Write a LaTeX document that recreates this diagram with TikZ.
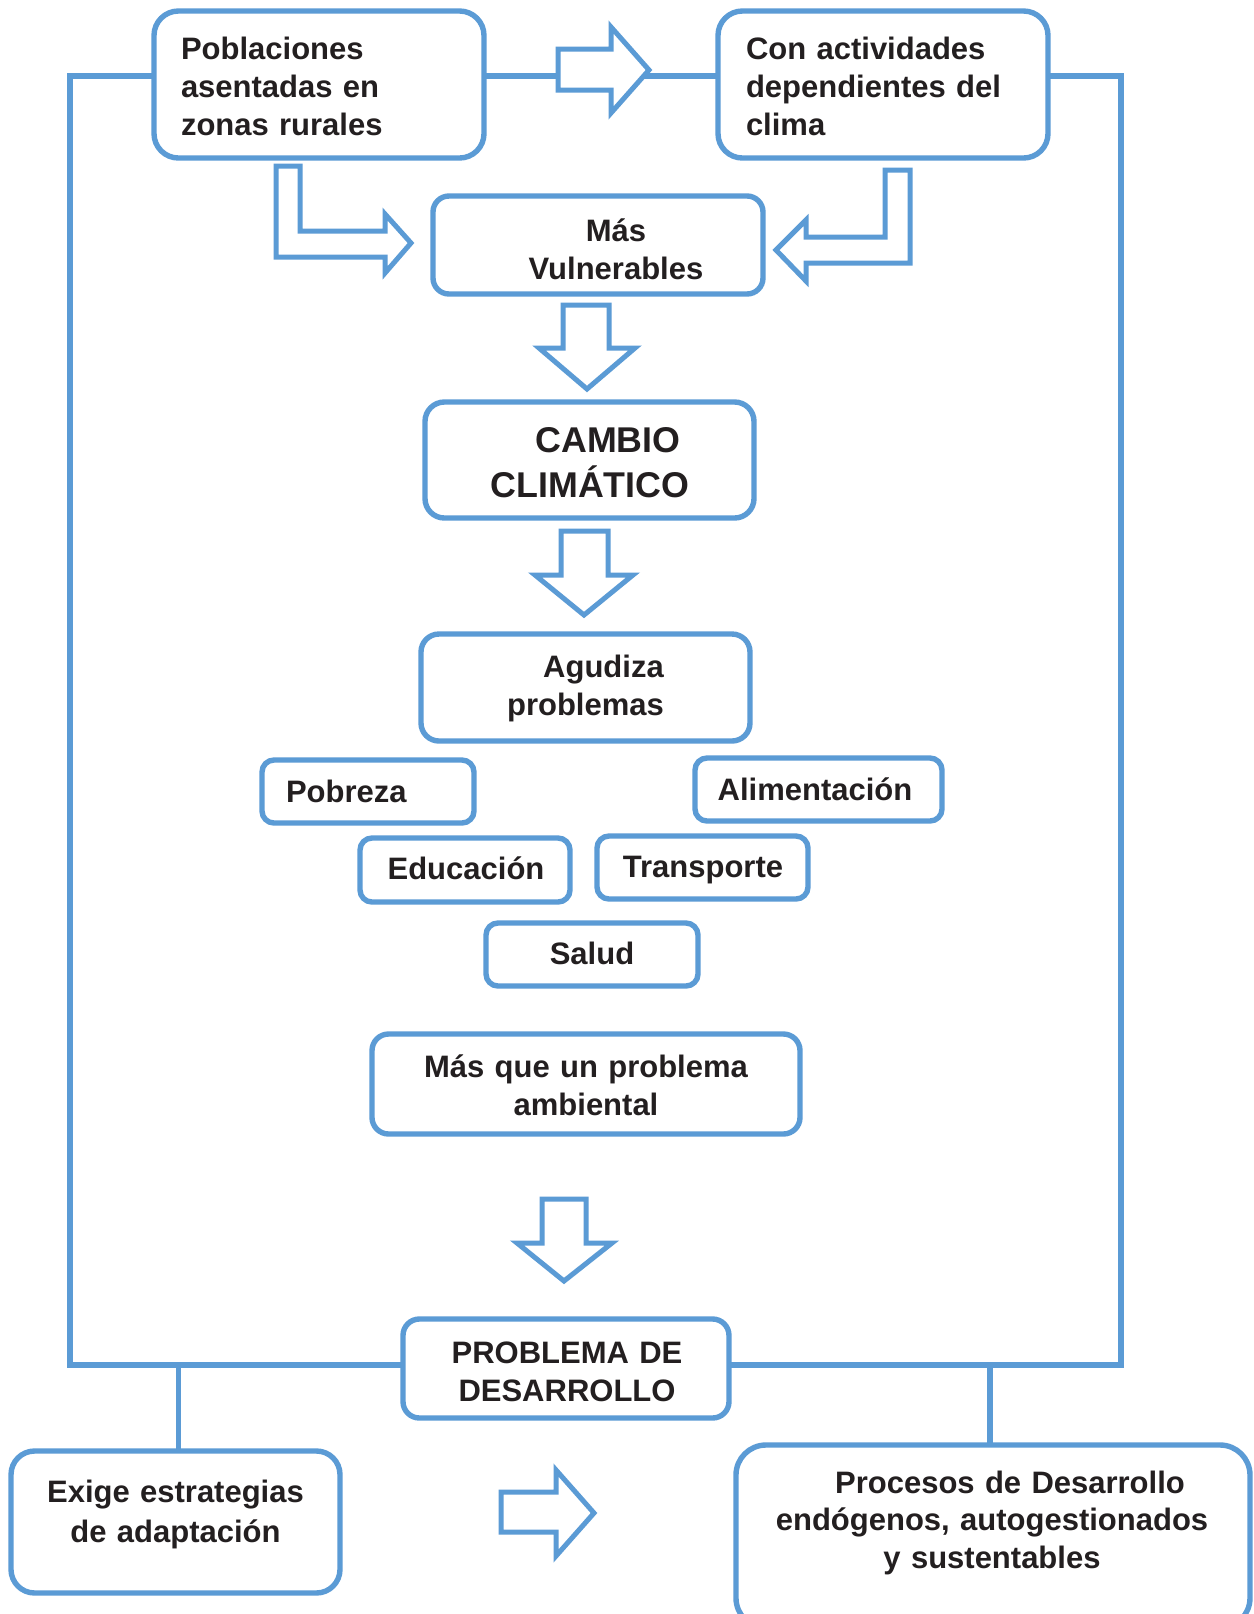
\documentclass[tikz,border=0pt]{standalone}
\usepackage{fontspec}
\setmainfont{Liberation Sans}
\definecolor{myblue}{RGB}{91,155,213}
\definecolor{mytext}{RGB}{35,31,32}
\tikzset{
  box/.style={draw=myblue, line width=2.7pt, fill=white, inner sep=0pt, outer sep=0pt, rectangle},
  txt/.style={inner sep=0pt, outer sep=0pt, text=mytext, font=\bfseries\fontsize{15.5}{19.2}\selectfont},
  ctxt/.style={txt, anchor=base, text width=260pt, align=center},
  ltxt/.style={txt, anchor=base west, text width=170pt, align=left},
  conn/.style={draw=myblue, line width=2.7pt, line join=miter},
  blk/.style={draw=myblue, line width=2.5pt, fill=white, line join=miter, miter limit=10}
}
\begin{document}
\begin{tikzpicture}[x=0.5pt,y=-0.5pt]
\useasboundingbox (0,0) rectangle (1254,1614);
\clip (0,0) rectangle (1254,1614);
\fill[white] (0,0) rectangle (1254,1614);

% coordinates of the frame
\coordinate (ftl) at (70,76);
\coordinate (fbl) at (70,1365);
\coordinate (ftr) at (1121,76);
\coordinate (fbr) at (1121,1365);
\coordinate (dl) at (178.5,1365);
\coordinate (dr) at (990,1365);

% boxes
\node[box, minimum width=165pt, minimum height=73.5pt, rounded corners=12.2pt] (b1) at (319,84.5) {};
\node[box, minimum width=165pt, minimum height=73.5pt, rounded corners=12.2pt] (b2) at (883,84.5) {};
\node[box, minimum width=165pt, minimum height=49pt, rounded corners=8pt] (mv) at (598,245) {};
\node[box, minimum width=164.5pt, minimum height=58pt, rounded corners=9.7pt] (cc) at (589.5,460) {};
\node[box, minimum width=164.5pt, minimum height=53.5pt, rounded corners=9pt] (ag) at (585.5,687.5) {};
\node[box, minimum width=106pt, minimum height=31.5pt, rounded corners=6pt] (po) at (368,791.5) {};
\node[box, minimum width=123.5pt, minimum height=31.5pt, rounded corners=6pt] (al) at (818.5,789.5) {};
\node[box, minimum width=105pt, minimum height=32pt, rounded corners=6pt] (ed) at (465,870) {};
\node[box, minimum width=105.5pt, minimum height=31.5pt, rounded corners=6pt] (tr) at (702.5,867.5) {};
\node[box, minimum width=106pt, minimum height=31.5pt, rounded corners=6pt] (sa) at (592,954.5) {};
\node[box, minimum width=214pt, minimum height=50pt, rounded corners=8.3pt] (mq) at (586,1084) {};
\node[box, minimum width=163pt, minimum height=49.5pt, rounded corners=8.2pt] (pd) at (566,1368.5) {};
\node[box, minimum width=164.5pt, minimum height=71pt, rounded corners=11.8pt] (ex) at (175.5,1522) {};
\node[box, minimum width=257pt, minimum height=91.5pt, rounded corners=15pt] (pr) at (993,1536.5) {};

% connectors
\draw[conn] (b1.east |- ftl) -- (b2.west |- ftl);
\draw[conn] (b1.west |- ftl) -- (ftl) -- (fbl) -- (pd.west |- fbl);
\draw[conn] (b2.east |- ftr) -- (ftr) -- (fbr) -- (pd.east |- fbr);
\draw[conn] (dl) -- (dl |- ex.north);
\draw[conn] (dr) -- (dr |- pr.north);

% block arrows
\draw[blk] (558,49) -- (611,49) -- (611,27) -- (649,70) -- (611,113) -- (611,90) -- (558,90) -- cycle;
\draw[blk] (276,166) -- (300,166) -- (300,231) -- (385,231) -- (385,214) -- (411,243) -- (385,273) -- (385,257) -- (276,257) -- cycle;
\draw[blk] (885,170) -- (910,170) -- (910,263) -- (806,263) -- (806,281) -- (776,250) -- (806,220) -- (806,237) -- (885,237) -- cycle;
\draw[blk] (563,305) -- (609,305) -- (609,348) -- (635,348) -- (587,389) -- (539,348) -- (563,348) -- cycle;
\draw[blk] (561,531) -- (608,531) -- (608,575) -- (633,575) -- (584,615) -- (535,575) -- (561,575) -- cycle;
\draw[blk] (542,1199) -- (586,1199) -- (586,1243) -- (612,1243) -- (564,1281) -- (517,1243) -- (542,1243) -- cycle;
\draw[blk] (501,1492) -- (556,1492) -- (556,1470) -- (594,1513) -- (556,1556) -- (556,1532) -- (501,1532) -- cycle;

% texts
\node[ltxt] (t1) at (181,59) {Poblaciones\\asentadas en\\zonas rurales};
\node[ltxt] (t2) at (746,59) {Con actividades\\dependientes del\\clima};
\node[ctxt] (tmv) at (616,241) {Más\\Vulnerables};
\node[ctxt, font=\bfseries\fontsize{17.9}{22.5}\selectfont] (tcc) at (590,452) {\hspace*{18pt}CAMBIO\\CLIMÁTICO};
\node[ctxt] (tag) at (585.5,677) {\hspace*{18pt}Agudiza\\problemas};
\node[ltxt] (tpo) at (286,802) {Pobreza};
\node[ctxt] (tal) at (815,800) {Alimentación};
\node[ctxt] (ted) at (466,879) {Educación};
\node[ctxt] (ttr) at (703,877.5) {Transporte};
\node[ctxt] (tsa) at (592,964) {Salud};
\node[ctxt] (tmq) at (586,1077) {Más que un problema\\ambiental};
\node[ctxt, font=\bfseries\fontsize{15.5}{19}\selectfont] (tpd) at (567,1363) {PROBLEMA DE\\DESARROLLO};
\node[ctxt, font=\bfseries\fontsize{15.5}{20}\selectfont] (tex) at (175.5,1502) {Exige estrategias\\de adaptación};
\node[ctxt, font=\bfseries\fontsize{15.5}{18.8}\selectfont] (tpr) at (992,1493) {\hspace*{18pt}Procesos de Desarrollo\\endógenos, autogestionados\\y sustentables};
\end{tikzpicture}
\end{document}
